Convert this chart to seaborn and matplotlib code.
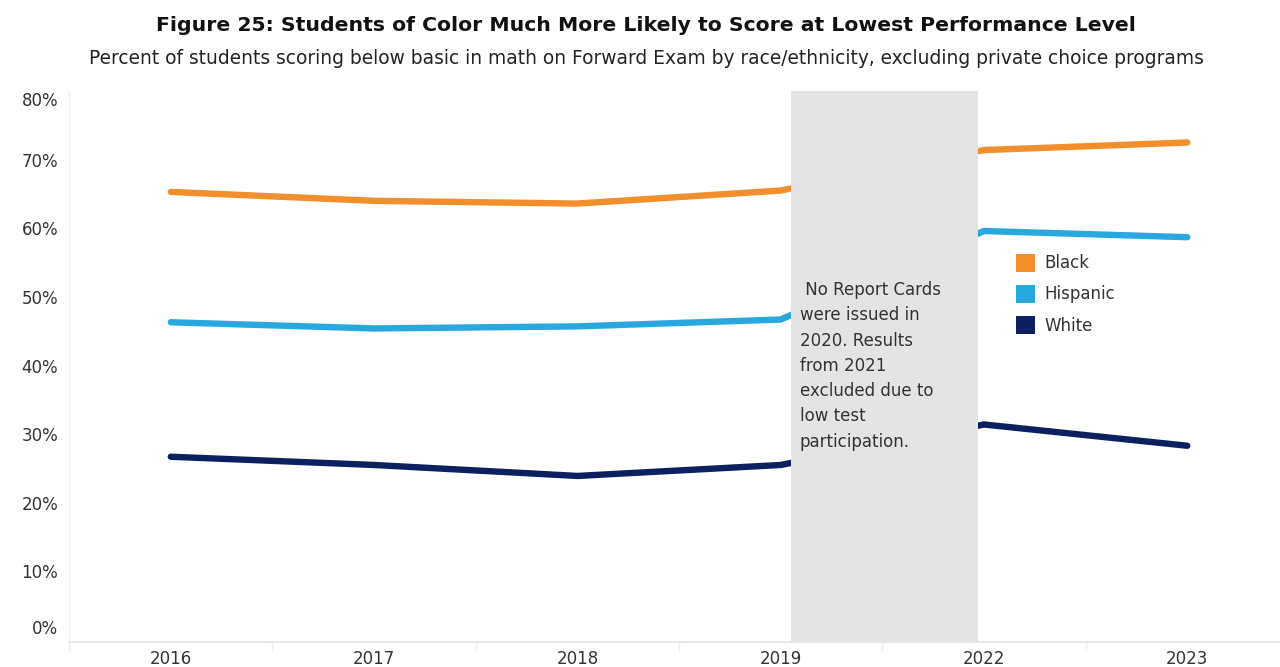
import matplotlib
matplotlib.use("Agg")
import matplotlib.pyplot as plt
import matplotlib.patches as mpatches
import seaborn as sns
import pandas as pd
import numpy as np

years = ["2016", "2017", "2018", "2019", "2022", "2023"]
black = [65.6, 64.3, 63.9, 65.8, 71.7, 72.8]
hispanic = [46.6, 45.7, 46.0, 47.0, 59.9, 59.0]
white = [27.0, 25.8, 24.2, 25.8, 31.7, 28.6]
groups = ["Black", "Hispanic", "White"]
colors = {"Black": "#F28E2B", "Hispanic": "#29A7DF", "White": "#0C1F5F"}
yticks = [0, 10, 20, 30, 40, 50, 60, 70, 80]
note = " No Report Cards\nwere issued in\n2020. Results\nfrom 2021\nexcluded due to\nlow test\nparticipation."

rows = []
for g, vals in zip(groups, [black, hispanic, white]):
    for i, (y, v) in enumerate(zip(years, vals)):
        rows.append({"pos": i, "year": y, "value": v, "group": g})
df = pd.DataFrame(rows)

sns.set_theme(style="white")
plt.rcParams["font.family"] = ["DejaVu Sans"]

fig = plt.figure(figsize=(12.8, 6.67), dpi=100)
ax = fig.add_axes([0.054, 0.0375, 0.953, 0.826])

sns.lineplot(data=df, x="pos", y="value", hue="group", palette=colors,
             linewidth=4.6, ax=ax, legend=False, solid_capstyle="round", zorder=2)

ax.set_xlim(-0.5, 5.5)
ax.set_ylim(0, 80.3)

# gap rectangle
ax.add_patch(mpatches.Rectangle((3.05, 0), 0.92, 80.3, facecolor="#E4E4E4",
                                edgecolor="none", zorder=3))
ax.text(3.094, 52.6, note, fontsize=12, color="#333333", va="top", ha="left",
        linespacing=1.52, zorder=4)

ax.set_xticks(range(len(years)))
ax.set_xticklabels(years, fontsize=12, color="#333333")
ax.set_yticks(yticks)
ax.set_yticklabels([])
ax.set_xlabel("")
ax.set_ylabel("")
# y tick labels, Tableau-style nudging of the end labels
for t in yticks:
    dy = 9 if t == yticks[0] else (-6 if t == yticks[-1] else 0)
    ax.annotate(f"{t}%", xy=(0, t), xycoords=ax.get_yaxis_transform(),
                xytext=(-8, dy), textcoords="offset points", ha="right", va="center",
                fontsize=12, color="#333333", annotation_clip=False)

for s in ["top", "right"]:
    ax.spines[s].set_visible(False)
ax.spines["left"].set_color("#F0F0F0")
ax.spines["bottom"].set_color("#E8E8E8")
ax.spines["left"].set_linewidth(1)
ax.spines["bottom"].set_linewidth(1.5)
ax.tick_params(axis="y", length=6, color="#EDEDED", pad=4)
ax.tick_params(axis="x", length=0, pad=5.5)
# boundary tick marks below x-axis
for b in np.arange(-0.5, 5.6, 1.0):
    ax.plot([b, b], [0, -1.2], color="#EDEDED", lw=1, clip_on=False, zorder=1)

# legend
handles = [mpatches.Patch(facecolor=colors[g], edgecolor="none", label=g) for g in groups]
leg = ax.legend(handles=handles, loc="upper left", bbox_to_anchor=(0.7705, 0.717),
                frameon=False, fontsize=12, handlelength=1.15, handleheight=1.3,
                handletextpad=0.55, labelspacing=0.75, borderaxespad=0)
for t in leg.get_texts():
    t.set_color("#333333")

fig.text(0.505, 0.962, "Figure 25: Students of Color Much More Likely to Score at Lowest Performance Level",
         ha="center", va="center", fontsize=14.7, fontweight="bold", color="#111111")
fig.text(0.505, 0.912, "Percent of students scoring below basic in math on Forward Exam by race/ethnicity, excluding private choice programs",
         ha="center", va="center", fontsize=13.4, color="#222222")

fig.savefig("out.png", dpi=100)
